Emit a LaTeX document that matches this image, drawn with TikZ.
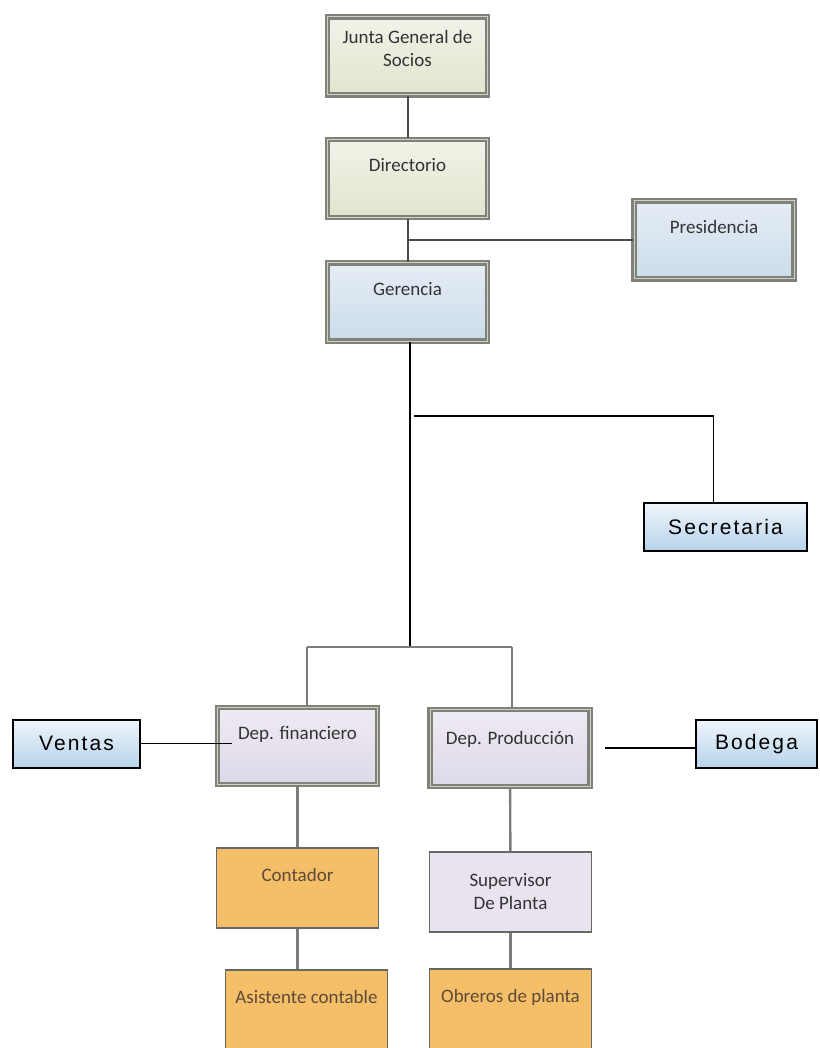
\documentclass[tikz,border=0pt]{standalone}
\usepackage{fontspec}
\setmainfont{Carlito}
\newfontfamily\smallboxfont[LetterSpace=10]{Liberation Sans}
\usepackage{tikz}
\usetikzlibrary{calc,positioning}
\definecolor{frame}{HTML}{808279}
\definecolor{framein}{HTML}{CFD1CB}
\definecolor{greentop}{HTML}{F1F3E8}
\definecolor{greenbot}{HTML}{E0E5CE}
\definecolor{bluetop}{HTML}{E6EDF5}
\definecolor{bluebot}{HTML}{CADCEA}
\definecolor{lilactop}{HTML}{EFEBF3}
\definecolor{lilacbot}{HTML}{DDD8E7}
\definecolor{orange}{HTML}{F5BE69}
\definecolor{skytop}{HTML}{F0F5FB}
\definecolor{skybot}{HTML}{B7D2EC}
\definecolor{ink}{HTML}{333333}
\definecolor{wire}{HTML}{4A4A4A}
\definecolor{buswire}{HTML}{7C7C7C}
\tikzset{
  card/.style={rectangle, draw=frame, line width=2.3pt, double=framein, double distance=1pt,
    text=ink, font=\fontsize{19}{23}\selectfont, align=center,
    text height=13pt, text depth=26pt, inner sep=0pt},
  gbox/.style={card, top color=greentop, bottom color=greenbot, minimum width=160, minimum height=78},
  bbox/.style={card, top color=bluetop, bottom color=bluebot, minimum width=160, minimum height=78},
  pbox/.style={card, top color=lilactop, bottom color=lilacbot, minimum width=160, minimum height=77},
  obox/.style={rectangle, draw=frame!80!black, line width=1.5pt, fill=orange, text=ink!70!brown,
    font=\fontsize{19}{23}\selectfont, align=center, text height=13pt, text depth=27pt,
    inner sep=0pt, minimum width=162, minimum height=80},
  lbox/.style={obox, fill=lilactop!60!lilacbot, text=ink, text height=40pt, text depth=6pt},
  sbox/.style={rectangle, draw=black, line width=2pt, top color=skytop, bottom color=skybot,
    font=\smallboxfont\fontsize{21}{25}\selectfont, text=black, inner sep=0pt,
    minimum height=48},
  link/.style={draw=wire, line width=2pt},
  thinlink/.style={draw=black, line width=1.1pt},
  buslink/.style={draw=buswire, line width=2.4pt}
}
\begin{document}
\begin{tikzpicture}[x=1pt,y=-1pt]
  \useasboundingbox (0,0) rectangle (819,1048);
  \clip (0,0) rectangle (819,1048);

  % upper levels
  \node[gbox, text height=28pt, text depth=6pt] (junta) at (407.5,56) {Junta General de\\Socios};
  \node[gbox] (direc) at (407.5,178.5) {Directorio};
  \node[bbox] (presid) at (714,240) {Presidencia};
  \node[bbox] (geren) at (407.5,302) {Gerencia};
  \node[sbox, minimum width=163] (secre) at (725.5,527) {Secretaria};

  % departments
  \node[pbox] (depfin) at (297.5,746) {Dep. financiero};
  \node[pbox, text depth=20pt] (depprod) at (510,748) {Dep. Producción};
  \node[sbox, minimum width=127] (ventas) at (76.5,743.5) {Ventas};
  \node[sbox, minimum width=121] (bodega) at (756.5,744) {Bodega};

  % lower levels
  \node[obox] (conta) at (297.5,888) {Contador};
  \node[lbox] (super) at (510.5,892) {Supervisor\\De Planta};
  \node[obox] (asist) at (306.5,1010) {Asistente contable};
  \node[obox] (obrer) at (510.5,1009) {Obreros de planta};

  % connectors
  \coordinate (presj) at (direc.south |- presid.west);
  \coordinate (secj) at (414,416);
  \coordinate (busL) at (307,647);
  \coordinate (busR) at (512,647);
  \coordinate (trunk) at (410,647);
  \coordinate (vin) at (232,743.5);
  \coordinate (bin) at (605,748);

  \draw[link] (junta) -- (direc);
  \draw[link] (direc) -- (geren);
  \draw[link] (presj) -- (presid.west);
  \draw[thinlink] ([xshift=2.5]geren.south) -- (trunk);
  \draw[thinlink] (secj) -| ([xshift=-12]secre.north);
  \draw[buslink] (busL) -- (busR);
  \draw[buslink] (busL) -- (busL |- depfin.north);
  \draw[buslink] (busR) -- (busR |- depprod.north);
  \draw[thinlink] (ventas.east) -- (vin);
  \draw[thinlink] (bin) -- (bin -| bodega.west);
  \draw[buslink] (depfin) -- (conta);
  \draw[buslink] (conta.south) -- (conta.south |- asist.north);
  \draw[buslink] (depprod) -- (super);
  \draw[buslink] (super) -- (obrer);
\end{tikzpicture}
\end{document}
